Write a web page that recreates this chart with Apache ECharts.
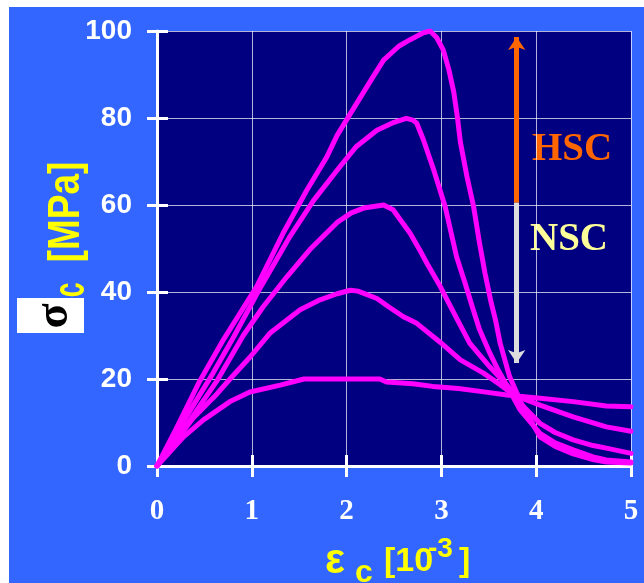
<!DOCTYPE html>
<html>
<head>
<meta charset="utf-8">
<script src="https://cdn.jsdelivr.net/npm/echarts@6/dist/echarts.min.js"></script>
<style>
  html, body { margin: 0; padding: 0; background: #ffffff; }
  #wrap { position: relative; width: 644px; height: 583px; background: #ffffff; }
  #blue { position: absolute; left: 9px; top: 7px; right: 0; bottom: 0; background: #3366ff; }
  #chart { position: absolute; left: 0; top: 0; width: 644px; height: 583px; }
</style>
</head>
<body>
<div id="wrap">
  <div id="blue"></div>
  <div id="chart"></div>
</div>
<script>
// strain eps_c [1e-3] vs stress sigma_c [MPa]
const fc100 = [[0,0],[0.2,8.5],[0.45,19.5],[0.7,29],[1.05,41.2],[1.33,53.5],[1.58,63.4],[1.79,71],[1.9,76],[2.04,81],[2.28,89.5],[2.39,93.3],[2.55,96.5],[2.67,98],[2.8,99.5],[2.88,100],[2.95,98.5],[3.02,95.6],[3.08,91],[3.13,86],[3.17,80],[3.2,74.5],[3.27,66.5],[3.34,59.6],[3.4,51.5],[3.46,44.3],[3.52,38],[3.57,33.6],[3.62,28.2],[3.72,20.5],[3.86,13.6],[4.04,6.7],[4.2,4.5],[4.39,2.8],[4.6,1.5],[4.74,0.9],[5,0.7]]
const fc80 = [[0,0],[0.3,11],[0.59,21.3],[0.81,29.7],[1.09,41],[1.4,52.7],[1.65,61],[1.9,68],[2.1,73.4],[2.32,77.2],[2.5,79],[2.63,79.9],[2.7,79.5],[2.74,78.8],[2.81,75],[2.92,68],[3.04,59.6],[3.16,48.1],[3.25,42],[3.32,37],[3.4,31.5],[3.51,26],[3.6,22],[3.69,18.5],[3.83,12.9],[4.04,7.5],[4.2,5.3],[4.39,3.7],[4.6,2.1],[4.74,1.4],[5,0.9]]
const fc60 = [[0,0],[0.3,9],[0.63,19.5],[0.91,30],[1.12,36.6],[1.37,43.5],[1.61,49.7],[1.9,56],[2.05,58.2],[2.18,59.3],[2.39,60],[2.49,58.9],[2.67,53.5],[2.77,49.7],[2.85,46.5],[2.99,41.2],[3.06,38.2],[3.16,34],[3.3,28.2],[3.51,22.8],[3.72,17.9],[3.85,14],[4.04,9.8],[4.2,7.7],[4.39,6],[4.6,4.7],[4.74,4.1],[5,2.9]]
const fc40 = [[0,0],[0.38,11],[0.63,16.5],[0.77,20],[0.98,25],[1.19,30.5],[1.51,35.9],[1.72,38.2],[1.9,39.6],[2.04,40.4],[2.12,40.2],[2.32,38.5],[2.45,36.5],[2.6,34.3],[2.74,32.8],[2.99,28.4],[3.2,24.4],[3.44,21.4],[3.6,19],[3.69,17.5],[3.85,15.6],[4.04,14],[4.39,11.3],[4.74,9],[5,8]]
const fc20 = [[0,0],[0.28,6.7],[0.49,10.6],[0.77,14.8],[0.98,17],[1.3,18.6],[1.55,20],[2.35,20],[2.42,19.3],[2.7,18.9],[2.91,18.3],[3.18,17.8],[3.43,17.1],[3.69,16.3],[4.04,15.6],[4.39,14.8],[4.74,13.8],[5,13.6]]

// HSC / NSC range arrow (x, y from, y mid, y to)
const arrowX = 3.794
const arrowTop = 98.6
const arrowMid = 60.5
const arrowBottom = 23.7

const curveColor = '#ff00ff'

const chart = echarts.init(document.getElementById('chart'))

const txt = (x, y, text, font, fill, extra) => Object.assign({
  type: 'text', x: x, y: y, silent: true,
  style: {text: text, font: font, fill: fill, align: 'left', verticalAlign: 'middle'}
}, extra || {})

const baseX = {
  type: 'value', min: 0, max: 5, interval: 1
}
const baseY = {
  type: 'value', min: 0, max: 100, interval: 20
}

const option = {
  animation: false,
  grid: {
    left: 157, right: 13, top: 31, bottom: 117,
    show: true, backgroundColor: '#000080', borderWidth: 0
  },
  xAxis: [
    Object.assign({}, baseX, {
      axisLine: {show: true, lineStyle: {color: '#ffffff', width: 3}},
      axisTick: {show: true, length: 11, lineStyle: {color: '#ffffff', width: 3}},
      axisLabel: {
        margin: 31, color: '#ffffff',
        fontFamily: 'Liberation Serif', fontWeight: 'bold', fontSize: 29
      },
      splitLine: {show: true, lineStyle: {color: 'rgba(255,255,255,0.7)', width: 1}}
    }),
    Object.assign({}, baseX, {
      position: 'bottom',
      axisLine: {show: false},
      axisTick: {show: true, inside: true, length: 11, lineStyle: {color: '#ffffff', width: 3}},
      axisLabel: {show: false},
      splitLine: {show: false}
    })
  ],
  yAxis: [
    Object.assign({}, baseY, {
      axisLine: {show: true, lineStyle: {color: '#ffffff', width: 3}},
      axisTick: {show: true, length: 10, lineStyle: {color: '#ffffff', width: 3}},
      axisLabel: {
        margin: 25, color: '#ffffff',
        fontFamily: 'Liberation Sans', fontWeight: 'bold', fontSize: 28
      },
      splitLine: {show: true, lineStyle: {color: 'rgba(255,255,255,0.7)', width: 1}}
    }),
    Object.assign({}, baseY, {
      position: 'left',
      axisLine: {show: false},
      axisTick: {show: true, inside: true, length: 11, lineStyle: {color: '#ffffff', width: 3}},
      axisLabel: {show: false},
      splitLine: {show: false}
    })
  ],
  series: [fc100, fc80, fc60, fc40, fc20].map((d, i) => ({
    type: 'line',
    data: d,
    symbol: 'none',
    smooth: false,
    lineStyle: {color: curveColor, width: 5, join: 'round', cap: 'round'},
    z: 3,
    silent: true
  })).concat([{
    type: 'line',
    data: [],
    silent: true,
    markLine: {
      silent: true,
      symbol: ['none', 'arrow'],
      symbolSize: [13, 13],
      label: {show: false},
      emphasis: {disabled: true},
      data: [
        [{coord: [arrowX, arrowMid], lineStyle: {color: '#ff6600', width: 5, type: 'solid'}},
         {coord: [arrowX, arrowTop]}],
        [{coord: [arrowX, arrowMid], lineStyle: {color: '#dddddd', width: 5, type: 'solid'}},
         {coord: [arrowX, arrowBottom]}]
      ]
    }
  }]),
  graphic: [
    // y axis name: sigma in white box, then c [MPa], rotated
    {type: 'rect', shape: {x: 17, y: 298, width: 67, height: 35}, style: {fill: '#ffffff'}, silent: true},
    txt(55, 316, 'σ', 'bold 46px "Liberation Serif"', '#000000',
      {rotation: Math.PI / 2, style: {text: 'σ', font: 'bold 46px "Liberation Serif"', fill: '#000000', align: 'center', verticalAlign: 'middle'}}),
    txt(72, 290, 'c', 'bold 44px "Liberation Sans"', '#ffff00',
      {rotation: Math.PI / 2, scaleX: 0.6, style: {text: 'c', font: 'bold 44px "Liberation Sans"', fill: '#ffff00', align: 'center', verticalAlign: 'middle'}}),
    txt(67, 212, '[MPa]', 'bold 44px "Liberation Sans"', '#ffff00',
      {rotation: Math.PI / 2, scaleX: 0.84, style: {text: '[MPa]', font: 'bold 44px "Liberation Sans"', fill: '#ffff00', align: 'center', verticalAlign: 'middle'}}),
    // x axis name: eps_c [10^-3]
    txt(325, 561, 'ε', 'bold 42px "Liberation Sans"', '#ffff00'),
    txt(355, 573, 'c', 'bold 32px "Liberation Sans"', '#ffff00'),
    txt(384, 562, '[10', 'bold 34px "Liberation Sans"', '#ffff00'),
    txt(428, 549, '-3', 'bold 28px "Liberation Sans"', '#ffff00'),
    txt(459, 562, ']', 'bold 34px "Liberation Sans"', '#ffff00'),
    // HSC / NSC
    txt(532, 150, 'HSC', 'bold 39px "Liberation Serif"', '#ff6600'),
    txt(530, 240, 'NSC', 'bold 39px "Liberation Serif"', '#ffff99')
  ]
}

chart.setOption(option)
window.addEventListener('resize', () => chart.resize())
</script>
</body>
</html>
